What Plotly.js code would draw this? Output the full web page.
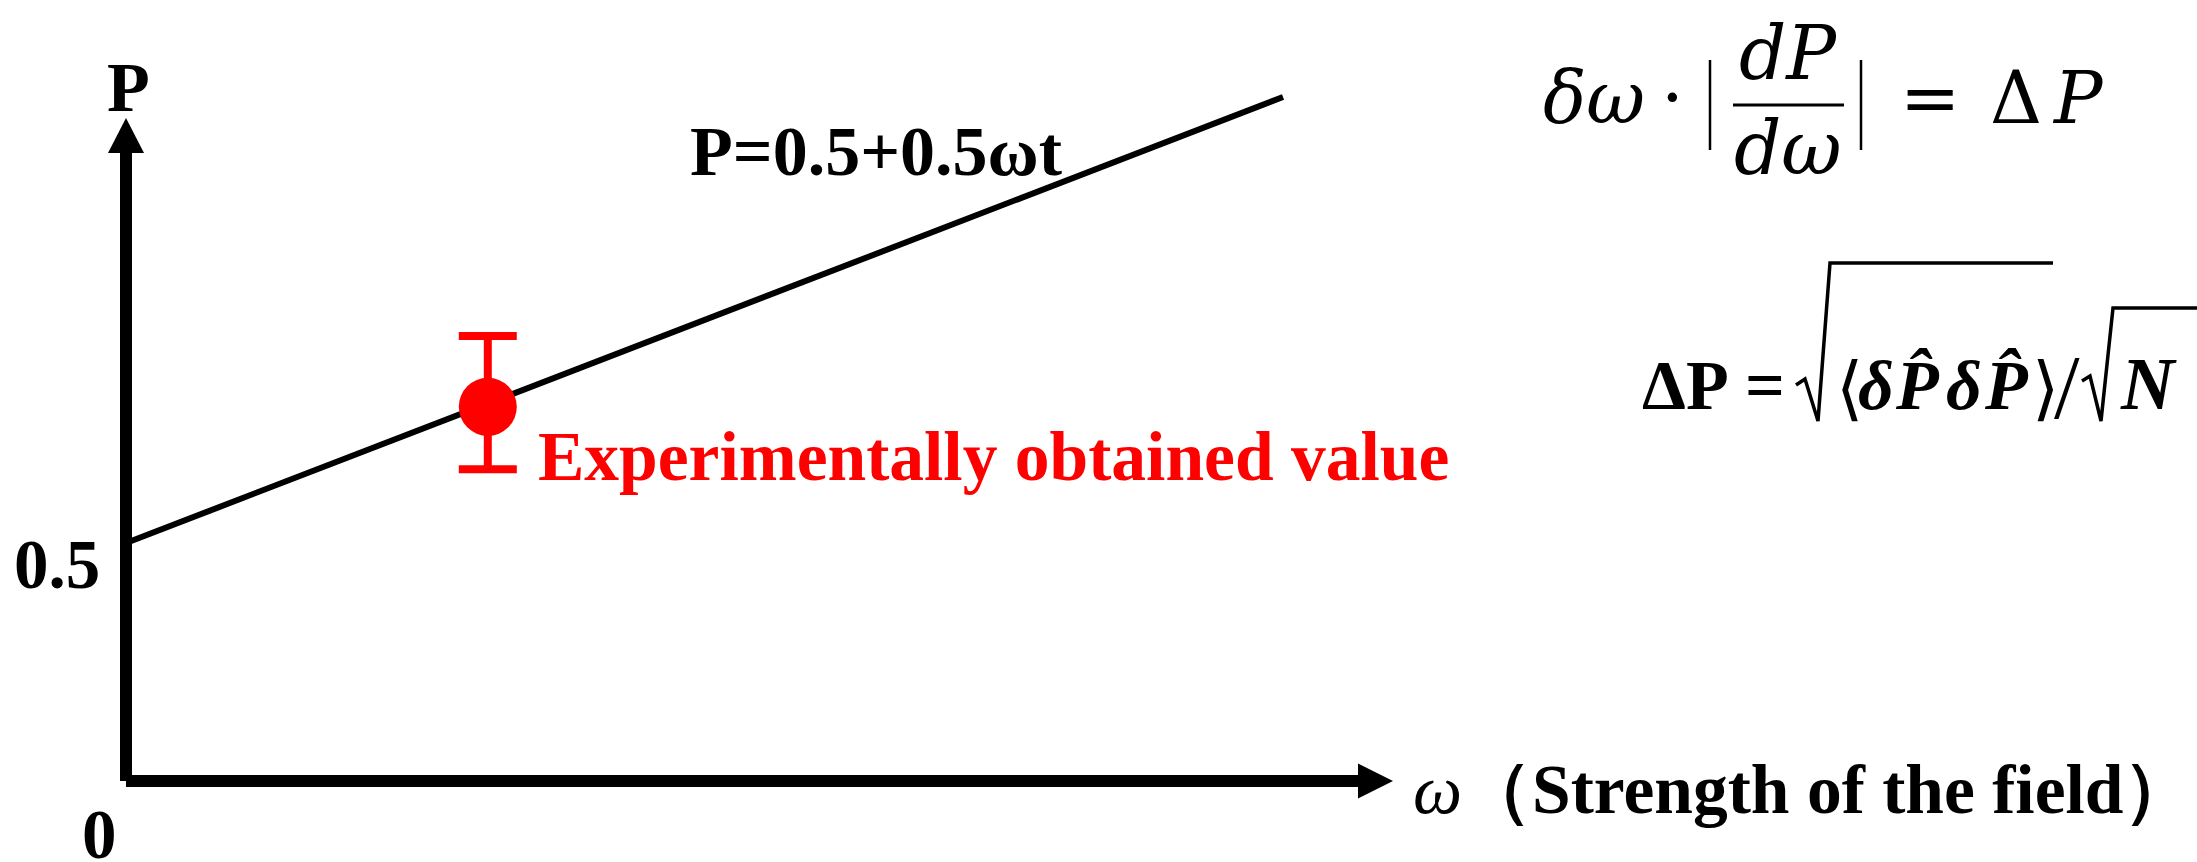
<!DOCTYPE html>
<html>
<head>
<meta charset="utf-8">
<script src="https://cdn.plot.ly/plotly-3.0.1.min.js"></script>
<style>
  html, body { margin: 0; padding: 0; background: #ffffff; }
  #chart { width: 2197px; height: 862px; }
</style>
</head>
<body>
<div id="chart"></div>
<script>
// Linear response model P = 0.5 + 0.5·ωt (t = 1): ends of the drawn segment
const lineOmega = [0, 1.874];
const lineP = [0.5, 1.437];

// Experimentally obtained point and its uncertainty ΔP
const expOmega = [0.586];
const expP = [0.786];
const expErrUp = [0.149];
const expErrDown = [0.131];

// Axis extents (where the arrowheads start) and tick labels on the P axis
const omegaAxisEnd = 1.9955;
const pAxisEnd = 1.3193;
const pTickVals = [0, 0.5];
const pTickText = ['0', '0.5'];

// Text labels
const pAxisLabel = 'P';
const omegaAxisLabel = '<i>ω</i><b>（Strength of the field）</b>';
const modelLabel = 'P=0.5+0.5ωt';
const pointLabel = 'Experimentally obtained value';

const W = 2197, H = 862;
const SERIF = 'Liberation Serif, Times New Roman, serif';
const MATH = 'DejaVu Serif, serif';
const RED = '#ff0000';
const BLACK = '#000000';

// paper-coordinate helpers (pixel -> paper fraction)
const px = v => v / W;
const py = v => 1 - v / H;

// half-height offset between the text box middle and the baseline, per em
const MID = { serif: 0.3375, math: 0.346 };

// a piece of formula text placed by baseline; anchor is 'left' or 'center'
function glyph(text, x, baseline, size, opts) {
  const o = opts || {};
  const math = o.math !== false;
  return {
    xref: 'paper', yref: 'paper',
    x: px(x), y: py(baseline - (math ? MID.math : MID.serif) * size),
    xanchor: o.anchor || 'left', yanchor: 'middle',
    text: text, showarrow: false,
    font: { family: math ? MATH : SERIF, size: size, color: BLACK, weight: o.weight || 'normal' }
  };
}

function hline(x0, x1, y, w) {
  return { type: 'line', xref: 'paper', yref: 'paper', x0: px(x0), y0: py(y), x1: px(x1), y1: py(y),
           line: { color: BLACK, width: w } };
}
function vline(x, y0, y1, w) {
  return { type: 'line', xref: 'paper', yref: 'paper', x0: px(x), y0: py(y0), x1: px(x), y1: py(y1),
           line: { color: BLACK, width: w } };
}
// radical sign: tick, down stroke, up stroke, then the vinculum
function radical(pts, w) {
  const d = pts.map((p, i) => (i ? ' L' : 'M') + px(p[0]) + ',' + py(p[1])).join('');
  return { type: 'path', xref: 'paper', yref: 'paper', path: d, line: { color: BLACK, width: w } };
}

const traces = [
  {
    type: 'scatter', mode: 'lines',
    x: lineOmega, y: lineP,
    line: { color: BLACK, width: 6 },
    hoverinfo: 'skip', showlegend: false
  },
  {
    type: 'scatter', mode: 'markers',
    x: expOmega, y: expP,
    marker: { color: RED, size: 58 },
    error_y: {
      type: 'data', symmetric: false,
      array: expErrUp, arrayminus: expErrDown,
      color: RED, thickness: 8, width: 29
    },
    hoverinfo: 'skip', showlegend: false
  }
];

const shapes = [
  // ω axis shaft and arrowhead
  { type: 'line', xref: 'x', yref: 'y', x0: 0, y0: 0, x1: omegaAxisEnd, y1: 0,
    line: { color: BLACK, width: 12 } },
  { type: 'path', xref: 'x', yref: 'y', xsizemode: 'pixel', ysizemode: 'pixel',
    xanchor: omegaAxisEnd, yanchor: 0, path: 'M0,-17.5 L35,0 L0,17.5 Z',
    fillcolor: BLACK, line: { width: 0 } },
  // P axis shaft and arrowhead
  { type: 'line', xref: 'x', yref: 'y', x0: 0, y0: 0, x1: 0, y1: pAxisEnd,
    line: { color: BLACK, width: 12 } },
  { type: 'path', xref: 'x', yref: 'y', xsizemode: 'pixel', ysizemode: 'pixel',
    xanchor: 0, yanchor: pAxisEnd, path: 'M-18,0 L18,0 L0,35 Z',
    fillcolor: BLACK, line: { width: 0 } },

  // δω·|dP/dω| : absolute-value bars and fraction bar
  vline(1710, 60, 150, 2.5),
  hline(1733, 1844, 105, 3),
  vline(1861, 60, 150, 2.5),

  // √⟨δP̂δP̂⟩ and √N
  radical([[1796, 385], [1805, 379], [1818, 421], [1830, 263], [2053, 263]], 3.5),
  radical([[2082, 381], [2090, 376], [2101, 421], [2113, 308], [2200, 308]], 3.5)
];

const tickStyle = [
  { xshift: -27, yshift: -54, xanchor: 'center' },
  { xshift: -24, yshift: -22, xanchor: 'right' }
];

const annotations = [];

pTickVals.forEach((v, i) => {
  annotations.push({
    xref: 'x', yref: 'y', x: 0, y: v,
    xanchor: tickStyle[i].xanchor, yanchor: 'middle',
    xshift: tickStyle[i].xshift, yshift: tickStyle[i].yshift,
    text: pTickText[i], showarrow: false,
    font: { family: SERIF, size: 69, color: BLACK, weight: 'bold' }
  });
});

annotations.push(
  // axis titles
  { xref: 'x', yref: 'y', x: 0, y: pAxisEnd, xanchor: 'center', yanchor: 'middle',
    xshift: 2, yshift: 66, text: pAxisLabel, showarrow: false,
    font: { family: SERIF, size: 70, color: BLACK, weight: 'bold' } },
  { xref: 'x', yref: 'y', x: omegaAxisEnd, y: 0, xanchor: 'left', yanchor: 'middle',
    xshift: 53, yshift: -8, text: omegaAxisLabel, showarrow: false,
    font: { family: SERIF, size: 69.5, color: BLACK } },
  // model and point labels
  { xref: 'paper', yref: 'paper', x: px(688), y: py(152), xanchor: 'left', yanchor: 'middle',
    text: modelLabel, showarrow: false,
    font: { family: SERIF, size: 70, color: BLACK, weight: 'bold' } },
  { xref: 'x', yref: 'y', x: expOmega[0], y: expP[0], xanchor: 'left', yanchor: 'middle',
    xshift: 48, yshift: -50, text: pointLabel, showarrow: false,
    font: { family: SERIF, size: 69.5, color: RED, weight: 'bold' } },

  // δω · |dP/dω| = ΔP
  glyph('<i>δω</i>', 1541, 123, 72),
  glyph('·', 1672, 123, 72, { anchor: 'center' }),
  glyph('<i>dP</i>', 1788, 79, 74, { anchor: 'center' }),
  glyph('<i>dω</i>', 1788, 174, 74, { anchor: 'center' }),
  glyph('=', 1930, 123, 72, { anchor: 'center' }),
  glyph('Δ', 1988, 123, 72),
  glyph('<i>P</i>', 2050, 123, 72),

  // ΔP = √⟨δP̂δP̂⟩ / √N
  glyph('ΔP', 1640, 409, 70, { math: false, weight: 'bold' }),
  glyph('=', 1743, 409, 70, { math: false, weight: 'bold' }),
  glyph('⟨', 1834, 412, 70, { math: false }),
  glyph('<i>δ</i>', 1856, 409, 70, { math: false, weight: 'bold' }),
  glyph('<i>P\u0302</i>', 1893, 409, 70, { math: false, weight: 'bold' }),
  glyph('<i>δ</i>', 1944, 409, 70, { math: false, weight: 'bold' }),
  glyph('<i>P\u0302</i>', 1982, 409, 70, { math: false, weight: 'bold' }),
  glyph('⟩', 2030, 412, 70, { math: false }),
  glyph('/', 2052, 418, 92, { math: false }),
  glyph('<i>N</i>', 2118, 409, 74, { math: false, weight: 'bold' })
);

const layout = {
  width: W, height: H,
  margin: { l: 0, r: 0, t: 0, b: 0, pad: 0 },
  paper_bgcolor: '#ffffff', plot_bgcolor: '#ffffff',
  showlegend: false,
  xaxis: { range: [-0.20408, 3.35439], visible: false, fixedrange: true },
  yaxis: { range: [-0.17017, 1.64076], visible: false, fixedrange: true },
  shapes: shapes,
  annotations: annotations
};

Plotly.newPlot('chart', traces, layout, { staticPlot: true, displayModeBar: false });
</script>
</body>
</html>
